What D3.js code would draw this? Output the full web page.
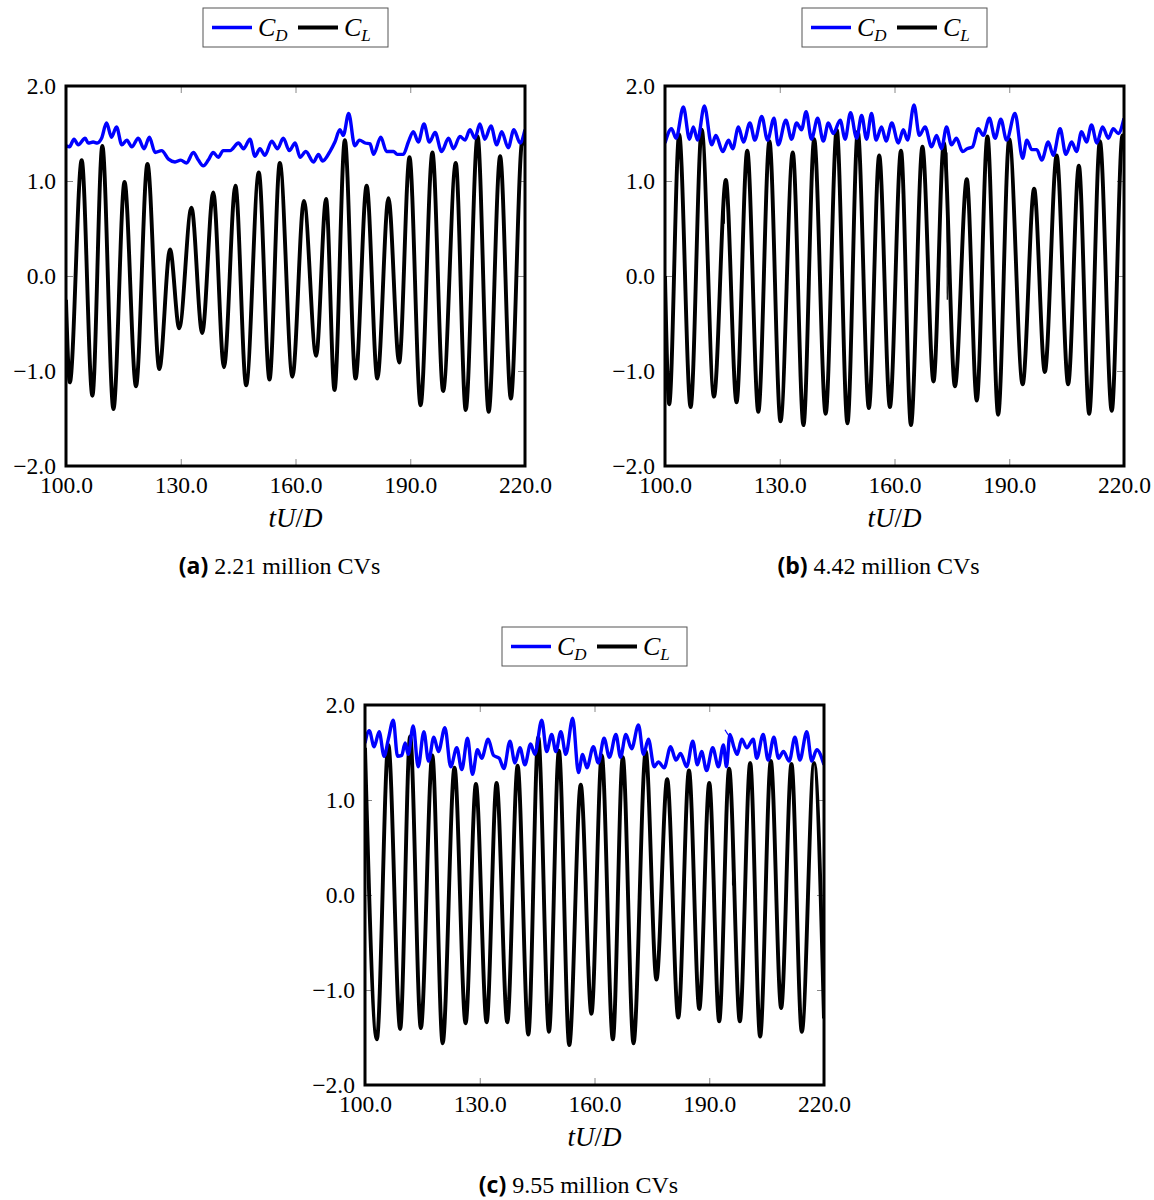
<!DOCTYPE html>
<html lang="en">
<head>
  <meta charset="UTF-8" />
  <title>CD / CL time histories</title>
  <style>
    body { margin: 0; background: #fff; }
    svg text { font-family: "Times New Roman", "Liberation Serif", Times, "DejaVu Serif", serif; }
    .tick text { font-size: 23.5px; fill: #000; }
    .tick line { stroke: #888; stroke-width: 1px; }
    .frame { fill: none; stroke: #000; stroke-width: 3px; }
    .cd { fill: none; stroke: #0000ff; stroke-width: 3.4px; }
    .cl { fill: none; stroke: #000; stroke-width: 3.9px; }
    .glitch { fill: none; stroke-width: 1.2px; }
    .xlabel { font-style: italic; font-size: 27px; }
    .caption { font-size: 24px; }
    .caption .tag { font-family: "Open Sans", sans-serif; font-weight: bold; font-size: 23px; }
    .legend rect { fill: #fff; stroke: #555; stroke-width: 1px; }
    .legend text { font-style: italic; font-size: 26px; }
  </style>
  <script src="https://d3js.org/d3.v7.min.js"></script>
</head>
<body>
  <div id="chart"></div>
  <script type="text/javascript">
    // axes
    const xTicks = [100, 130, 160, 190, 220];
    const yTicks = [-2, -1, 0, 1, 2];

    // (a) 2.21 million CVs
    const cdA = [[100.0,1.37],[100.9,1.36],[102.1,1.44],[103.2,1.38],[105.0,1.45],[105.8,1.40],[107.1,1.41],[108.2,1.40],
      [109.3,1.45],[110.6,1.61],[111.9,1.46],[113.2,1.57],[114.6,1.38],[115.9,1.43],[117.2,1.36],[118.9,1.45],[120.4,1.34],
      [121.8,1.46],[123.3,1.30],[125.0,1.32],[126.8,1.23],[128.5,1.20],[130.0,1.22],[131.5,1.19],[133.3,1.30],[134.6,1.22],
      [135.9,1.16],[137.2,1.22],[138.5,1.30],[139.8,1.25],[141.1,1.32],[142.9,1.32],[145.1,1.40],[146.4,1.34],[148.1,1.44],
      [149.4,1.26],[150.7,1.34],[152.0,1.27],[153.8,1.42],[155.3,1.34],[156.8,1.45],[158.4,1.32],[159.9,1.40],[161.2,1.25],
      [162.7,1.31],[164.7,1.20],[166.0,1.28],[167.1,1.21],[169.0,1.31],[170.3,1.41],[171.6,1.54],[172.5,1.48],[173.9,1.71],
      [175.5,1.37],[176.7,1.43],[178.2,1.40],[179.5,1.39],[180.4,1.28],[182.3,1.46],[183.8,1.31],[185.6,1.31],[186.6,1.28],
      [188.2,1.28],[189.5,1.41],[190.8,1.52],[192.1,1.41],[193.6,1.60],[195.0,1.41],[196.5,1.51],[198.2,1.31],[200.0,1.45],
      [201.3,1.34],[203.0,1.47],[204.3,1.43],[205.6,1.54],[206.9,1.45],[208.2,1.60],[209.5,1.44],[211.1,1.58],[212.6,1.38],
      [213.9,1.52],[215.6,1.35],[217.1,1.54],[218.7,1.40],[220.0,1.54]];
    const clA = [[100.0,-0.25],[101.0,-1.12],[104.1,1.22],[106.9,-1.26],[109.5,1.37],[112.4,-1.40],[115.3,0.99],[118.3,-1.16],
      [121.3,1.18],[124.4,-0.98],[127.2,0.28],[129.6,-0.55],[132.8,0.72],[135.6,-0.60],[138.5,0.88],[141.3,-0.96],
      [144.3,0.95],[147.1,-1.15],[150.4,1.09],[153.2,-1.09],[155.9,1.19],[159.2,-1.06],[162.2,0.79],[165.4,-0.84],
      [168.0,0.81],[170.2,-1.20],[172.9,1.43],[175.7,-1.08],[178.6,0.95],[181.4,-1.08],[184.3,0.82],[187.1,-0.91],
      [189.8,1.25],[192.7,-1.36],[195.8,1.30],[198.6,-1.21],[201.9,1.19],[204.5,-1.41],[207.6,1.47],[210.5,-1.43],
      [213.5,1.26],[216.3,-1.29],[219.3,1.42],[220.0,1.38]];

    // (b) 4.42 million CVs
    const cdB = [[100.0,1.40],[101.7,1.55],[102.9,1.45],[104.8,1.78],[106.4,1.44],[107.4,1.57],[108.5,1.43],[110.3,1.79],
      [112.2,1.38],[113.3,1.48],[115.1,1.31],[116.6,1.43],[117.7,1.34],[119.2,1.57],[120.5,1.41],[122.2,1.61],[123.5,1.43],
      [125.3,1.68],[126.8,1.43],[128.5,1.66],[129.6,1.38],[131.6,1.64],[133.1,1.44],[134.4,1.61],[135.7,1.54],[136.9,1.73],
      [138.3,1.44],[139.9,1.66],[141.4,1.42],[142.7,1.61],[144.0,1.50],[145.8,1.64],[147.1,1.44],[148.5,1.72],[150.1,1.45],
      [151.4,1.69],[152.7,1.44],[154.0,1.71],[155.2,1.43],[156.6,1.57],[157.8,1.42],[159.3,1.61],[161.0,1.40],[162.3,1.54],
      [163.4,1.43],[165.1,1.80],[166.5,1.48],[168.0,1.57],[169.7,1.36],[171.0,1.48],[172.3,1.34],[173.6,1.57],[174.9,1.38],
      [176.2,1.45],[177.8,1.31],[179.0,1.34],[180.4,1.36],[181.9,1.55],[183.2,1.48],[184.8,1.66],[186.3,1.45],[187.8,1.65],
      [189.3,1.43],[191.5,1.71],[193.5,1.24],[194.6,1.43],[195.9,1.33],[197.2,1.33],[198.5,1.22],[200.2,1.41],[201.5,1.27],
      [203.3,1.55],[204.8,1.28],[206.3,1.41],[207.6,1.31],[208.9,1.52],[210.2,1.41],[211.5,1.59],[212.9,1.40],[214.4,1.57],
      [215.9,1.45],[217.2,1.55],[218.5,1.50],[220.0,1.66]];
    const clB = [[100.0,0.0],[101.1,-1.35],[103.7,1.49],[106.7,-1.38],[109.6,1.54],[112.8,-1.27],[115.9,1.01],[118.7,-1.33],
      [121.5,1.32],[124.4,-1.43],[127.3,1.42],[130.2,-1.53],[133.4,1.30],[136.2,-1.57],[139.0,1.44],[142.0,-1.45],
      [144.9,1.54],[147.7,-1.55],[150.4,1.52],[153.3,-1.39],[156.0,1.27],[158.8,-1.38],[161.7,1.32],[164.3,-1.57],
      [167.3,1.36],[170.2,-1.11],[172.9,1.40],[175.8,-1.16],[178.9,1.02],[181.5,-1.31],[184.3,1.47],[187.1,-1.46],
      [190.0,1.44],[193.5,-1.14],[196.5,0.92],[199.3,-1.01],[202.4,1.27],[205.4,-1.14],[208.2,1.16],[210.9,-1.45],
      [213.7,1.42],[216.8,-1.42],[219.6,1.48],[220.0,1.45]];
    // short solver artefacts visible in (b)
    const clB_glitch = [[[115.5,0.55],[115.6,0.88]], [[173.7,1.30],[173.8,-0.25]]];

    // (c) 9.55 million CVs
    const cdC = [[100.0,1.60],[101.1,1.73],[102.4,1.56],[103.7,1.72],[105.0,1.46],[106.1,1.64],[107.4,1.84],[108.5,1.46],
      [109.6,1.47],[110.5,1.60],[111.3,1.48],[112.6,1.78],[113.9,1.35],[115.4,1.72],[116.6,1.41],[118.0,1.66],[119.2,1.51],
      [120.9,1.76],[122.4,1.35],[124.0,1.55],[125.3,1.32],[126.8,1.65],[128.1,1.27],[129.4,1.53],[130.5,1.44],[132.2,1.64],
      [133.6,1.47],[135.1,1.44],[136.3,1.33],[137.9,1.62],[139.2,1.39],[140.5,1.55],[141.8,1.37],[143.3,1.59],[144.4,1.48],
      [146.2,1.84],[147.5,1.51],[148.8,1.69],[149.9,1.51],[151.2,1.72],[152.5,1.48],[154.3,1.86],[155.8,1.29],[156.9,1.48],
      [158.0,1.34],[159.7,1.56],[161.0,1.39],[162.5,1.65],[163.9,1.45],[165.6,1.69],[166.8,1.45],[168.2,1.69],[169.7,1.54],
      [171.5,1.79],[172.8,1.48],[174.1,1.64],[175.6,1.35],[176.7,1.40],[178.2,1.34],[179.9,1.56],[181.3,1.42],[182.5,1.49],
      [184.1,1.35],[185.7,1.62],[186.9,1.37],[188.0,1.51],[189.3,1.31],[190.9,1.55],[192.4,1.35],[193.7,1.58],[194.5,1.35],
      [195.4,1.69],[196.5,1.55],[197.3,1.48],[198.5,1.64],[199.8,1.55],[201.5,1.64],[202.4,1.44],[204.1,1.69],[205.4,1.42],
      [206.9,1.66],[208.1,1.44],[209.4,1.51],[210.9,1.41],[212.4,1.66],[213.7,1.42],[215.5,1.72],[216.8,1.41],[218.1,1.53],
      [220.0,1.37]];
    const clC = [[100.0,1.55],[103.1,-1.52],[106.1,1.58],[109.2,-1.41],[111.8,1.67],[114.6,-1.40],[117.6,1.47],[120.3,-1.56],
      [123.4,1.34],[126.3,-1.35],[129.0,1.17],[131.8,-1.34],[134.4,1.18],[137.2,-1.34],[139.9,1.36],[142.7,-1.47],
      [145.3,1.66],[148.1,-1.44],[150.7,1.52],[153.4,-1.58],[156.4,1.16],[159.2,-1.25],[161.9,1.47],[164.8,-1.52],
      [167.4,1.45],[170.2,-1.56],[173.4,1.51],[176.2,-0.89],[179.0,1.22],[181.9,-1.29],[184.7,1.31],[187.4,-1.20],
      [190.0,1.18],[192.6,-1.33],[195.2,1.33],[198.0,-1.33],[200.7,1.39],[203.3,-1.49],[206.1,1.41],[208.8,-1.19],
      [211.5,1.38],[214.2,-1.44],[217.4,1.39],[220.0,-1.30]];
    const cdC_glitch = [[[194.1,1.74],[196.3,1.60]]];
    const clC_glitch = [[[158.7,-0.75],[158.8,-1.10]], [[196.0,0.95],[196.1,0.10]]];

    const panels = [
      { tag: "(a)", caption: "2.21 million CVs", cd: cdA, cl: clA, cdG: [], clG: [], left: 66, top: 86 },
      { tag: "(b)", caption: "4.42 million CVs", cd: cdB, cl: clB, cdG: [], clG: clB_glitch, left: 665, top: 86 },
      { tag: "(c)", caption: "9.55 million CVs", cd: cdC, cl: clC, cdG: cdC_glitch, clG: clC_glitch, left: 365, top: 705 }
    ];

    const width = 459, height = 380;

    const svg = d3.select("#chart").append("svg")
      .attr("width", 1154)
      .attr("height", 1200);

    const x = d3.scaleLinear().domain([100, 220]).range([0, width]);
    const y = d3.scaleLinear().domain([-2, 2]).range([height, 0]);
    const fmt = d3.format(".1f");

    const line = d3.line()
      .x(d => x(d[0]))
      .y(d => y(d[1]))
      .curve(d3.curveMonotoneX);
    const straight = d3.line().x(d => x(d[0])).y(d => y(d[1]));

    panels.forEach((p, i) => {
      const g = svg.append("g").attr("transform", `translate(${p.left},${p.top})`);

      g.append("clipPath").attr("id", "clip" + i)
        .append("rect").attr("width", width).attr("height", height);

      // inward ticks on all four sides
      g.append("g").attr("transform", `translate(0,${height})`)
        .call(d3.axisBottom(x).tickValues(xTicks).tickSize(-7).tickPadding(10).tickFormat(fmt))
        .call(a => a.select(".domain").remove());
      g.append("g")
        .call(d3.axisTop(x).tickValues(xTicks).tickSize(-7).tickFormat(""))
        .call(a => a.select(".domain").remove());
      g.append("g")
        .call(d3.axisLeft(y).tickValues(yTicks).tickSize(-7).tickPadding(10).tickFormat(fmt))
        .call(a => a.select(".domain").remove());
      g.append("g").attr("transform", `translate(${width},0)`)
        .call(d3.axisRight(y).tickValues(yTicks).tickSize(-7).tickFormat(""))
        .call(a => a.select(".domain").remove());

      g.selectAll("g").attr("font-family", null).attr("font-size", null);
      g.selectAll(".tick line").attr("stroke", null);

      const plot = g.append("g").attr("clip-path", `url(#clip${i})`);
      plot.append("path").datum(p.cl).attr("class", "cl").attr("d", line);
      plot.selectAll(".clg").data(p.clG).enter().append("path")
        .attr("class", "glitch").attr("stroke", "#000").attr("d", straight);
      plot.append("path").datum(p.cd).attr("class", "cd").attr("d", line);
      plot.selectAll(".cdg").data(p.cdG).enter().append("path")
        .attr("class", "glitch").attr("stroke", "#0000ff").attr("d", straight);

      g.append("rect").attr("class", "frame").attr("width", width).attr("height", height);

      // x label
      const xl = g.append("text").attr("class", "xlabel")
        .attr("x", width / 2).attr("y", height + 61).attr("text-anchor", "middle");
      xl.append("tspan").text("tU");
      xl.append("tspan").attr("font-style", "normal").text("/");
      xl.append("tspan").text("D");

      // caption
      const cap = g.append("text").attr("class", "caption")
        .attr("x", width / 2 - 16).attr("y", height + 108).attr("text-anchor", "middle");
      cap.append("tspan").attr("class", "tag").text(p.tag + " ");
      cap.append("tspan").text(p.caption);

      // legend
      const lw = 185, lh = 39;
      const leg = g.append("g").attr("class", "legend")
        .attr("transform", `translate(${width / 2 - lw / 2},-78)`);
      leg.append("rect").attr("width", lw).attr("height", lh);
      const items = [{ cls: "cd", sub: "D", dx: 9 }, { cls: "cl", sub: "L", dx: 95 }];
      items.forEach(it => {
        leg.append("line").attr("class", it.cls)
          .attr("x1", it.dx).attr("x2", it.dx + 40)
          .attr("y1", lh / 2).attr("y2", lh / 2);
        const t = leg.append("text").attr("x", it.dx + 46).attr("y", lh / 2 + 8);
        t.append("tspan").text("C");
        t.append("tspan").attr("font-size", "17px").attr("dy", 5).text(it.sub);
      });
    });
  </script>
</body>
</html>
